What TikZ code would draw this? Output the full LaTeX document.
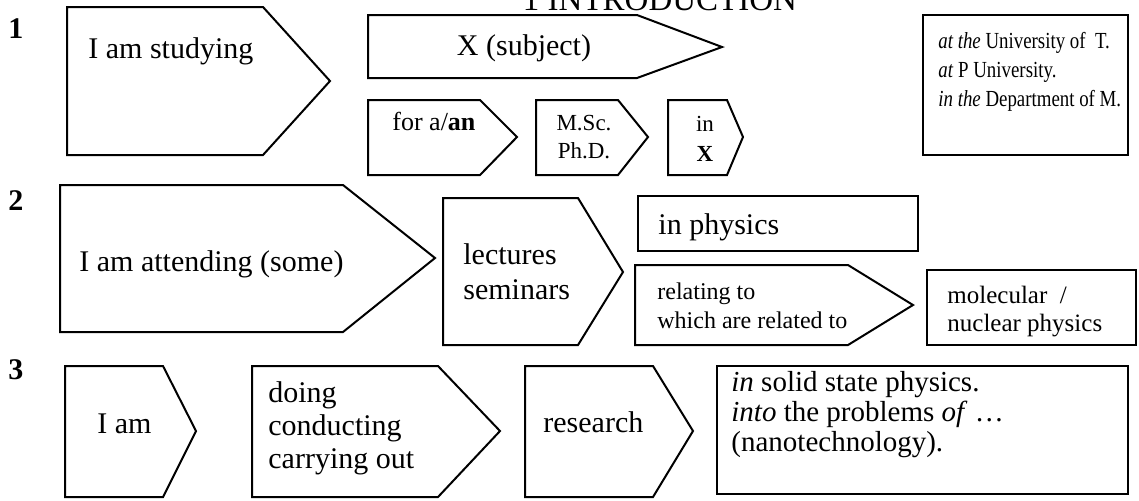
\documentclass[tikz,border=0pt]{standalone}
\usepackage{fontspec}
\setmainfont{Liberation Serif}
\newfontfamily\narrowserif[FakeStretch=0.82]{Liberation Serif}
\usetikzlibrary{positioning}

\begin{document}
\begin{tikzpicture}[
    x=0.5pt, y=-0.5pt,
    outline/.style={draw, line width=1pt, line join=miter},
    txt/.style={inner sep=0pt, anchor=base west, align=left, font=\fontsize{15}{17}\selectfont},
    small/.style={font=\fontsize{12}{14.5}\selectfont},
    num/.style={txt, font=\fontsize{15}{17}\selectfont\bfseries}
  ]
\useasboundingbox (0,0) rectangle (1139,500);

\node[txt, anchor=base, font=\fontsize{16.5}{20}\selectfont] (title) at (660,10) {1 INTRODUCTION};

\node[num] (n1) at (8,38)  {1};
\node[num] (n2) at (8,210) {2};
\node[num] (n3) at (8,379) {3};

% row 1
\draw[outline] (67,7) -- (263,7) -- (330,81) -- (263,155) -- (67,155) -- cycle;
\node[txt] (study) at (88,58) {I am studying};

\draw[outline] (368,15) -- (637,15) -- (722,47) -- (637,78) -- (368,78) -- cycle;
\node[txt, anchor=base] (subj) at (524,55) {X (subject)};

\draw[outline] (368,100) -- (480,100) -- (517,137) -- (480,175) -- (368,175) -- cycle;
\node[txt, font=\fontsize{13}{15}\selectfont] (fora) at (392,130) {for a/\textbf{an}};

\draw[outline] (536,100) -- (618,100) -- (648,137) -- (618,175) -- (536,175) -- cycle;
\node[txt, anchor=base, align=center, font=\fontsize{11.5}{14}\selectfont] (degree) at (584,158) {M.Sc.\\Ph.D.};

\draw[outline] (668,100) -- (727,100) -- (743,137) -- (727,175) -- (668,175) -- cycle;
\node[txt, anchor=base, align=center, font=\fontsize{11.5}{15}\selectfont] (inx) at (705,161) {in\\\textbf{X}};

\draw[outline] (923,15) rectangle (1128,155);
\node[txt, font=\fontsize{11.5}{14.5}\narrowserif] (univ) at (938,106)
  {\textit{at the} University of~ T.\\\textit{at} P University.\\\textit{in the} Department of M.};

% row 2
\draw[outline] (60,185) -- (343,185) -- (435,258) -- (343,332) -- (60,332) -- cycle;
\node[txt] (attend) at (79,271) {I am attending (some)};

\draw[outline] (443,198) -- (578,198) -- (623,272) -- (578,345) -- (443,345) -- cycle;
\node[txt, font=\fontsize{15}{17.5}\selectfont] (lect) at (463,299) {lectures\\seminars};

\draw[outline] (638,196) rectangle (918,251);
\node[txt] (inphys) at (658,234) {in physics};

\draw[outline] (635,265) -- (848,265) -- (913,305) -- (848,345) -- (635,345) -- cycle;
\node[txt, small] (relat) at (657,328) {relating to\\which are related to};

\draw[outline] (927,270) rectangle (1136,345);
\node[txt, font=\fontsize{12.5}{14}\selectfont] (molec) at (947,331) {molecular~ /\\nuclear physics};

% row 3
\draw[outline] (65,366) -- (163,366) -- (196,431) -- (163,497) -- (65,497) -- cycle;
\node[txt] (iam) at (97,433) {I am};

\draw[outline] (252,366) -- (438,366) -- (500,431) -- (438,497) -- (252,497) -- cycle;
\node[txt, font=\fontsize{15}{16.5}\selectfont] (doing) at (268,468) {doing\\conducting\\carrying out};

\draw[outline] (525,366) -- (653,366) -- (693,431) -- (653,497) -- (525,497) -- cycle;
\node[txt] (resch) at (543,432) {research};

\draw[outline] (717,366) rectangle (1128,494);
\node[txt, font=\fontsize{14.5}{15}\selectfont] (solid) at (731,451)
  {\textit{in} solid state physics.\\\textit{into} the problems \textit{of} \dots\\(nanotechnology).};
\end{tikzpicture}
\end{document}
